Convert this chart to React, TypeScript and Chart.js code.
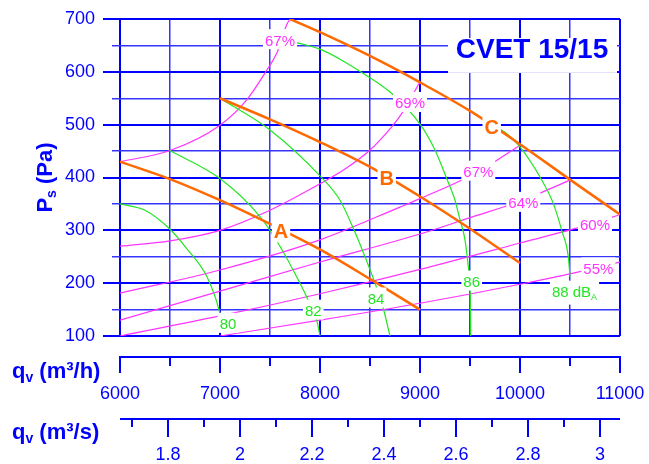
import React, { useEffect, useRef } from 'react';
import { Chart, registerables } from 'chart.js';

Chart.register(...registerables);

const FONT = '"Liberation Sans", Arial, Helvetica, sans-serif';
const BLUE = '#0000ff';
const GRID_MINOR = '#3434ff';
const ORANGE = '#ff6a00';
const GREEN = '#22e622';
const MAGENTA = '#ff33ff';

// Fan curves: airflow (m³/h) and static pressure (Pa)
const FAN_A_Q = [6000, 6500, 7000, 7500, 8000, 8500, 9000];
const FAN_A_P = [430, 397, 357, 312, 264, 208, 150];
const FAN_B_Q = [7000, 7500, 8000, 8500, 9000, 9500, 10000];
const FAN_B_P = [550, 510, 467, 420, 364, 303, 238];
const FAN_C_Q = [7700, 8000, 8500, 9000, 9500, 10000, 10500, 11000];
const FAN_C_P = [700, 675, 630, 580, 526, 463, 396, 330];

// Efficiency lines
const EFF_67_UPPER_Q = [6000, 6500, 7000, 7267, 7467, 7567, 7667, 7700];
const EFF_67_UPPER_P = [430, 451, 499, 547, 603, 635, 689, 700];
const EFF_69_Q = [6000, 6500, 7000, 7500, 8000, 8250, 8500, 8717, 8817, 9000];
const EFF_69_P = [270, 280, 300, 338, 388, 416, 452, 496, 521, 581];
const EFF_67_Q = [6000, 7000, 8000, 8800, 9000, 9583, 10000];
const EFF_67_P = [181, 225, 282, 344, 360, 411, 461];
const EFF_64_Q = [6000, 7000, 8000, 9000, 9500, 10000, 10500];
const EFF_64_P = [130, 185, 240, 293, 324, 355, 395];
const EFF_60_Q = [6000, 7000, 8000, 9000, 10000, 10750, 11000];
const EFF_60_P = [100, 138, 180, 226, 276, 314, 330];
const EFF_55_Q = [7000, 8000, 9000, 10000, 10600, 11000];
const EFF_55_P = [100, 130, 162, 198, 222, 240];

// Sound power lines, dB(A)
const NOISE_80_Q = [6000, 6250, 6500, 6700, 6800, 6870, 6950, 7000];
const NOISE_80_P = [350, 338, 302, 258, 234, 212, 175, 143];
const NOISE_82_Q = [6500, 7000, 7400, 7583, 7800, 7867, 7967, 8000];
const NOISE_82_P = [451, 398, 326, 275, 200, 174, 130, 100];
const NOISE_84_Q = [7000, 7500, 8000, 8200, 8333, 8450, 8550, 8633, 8700];
const NOISE_84_P = [550, 490, 403, 357, 304, 250, 200, 152, 100];
const NOISE_86_Q = [7600, 8000, 8200, 8433, 8717, 9000, 9150, 9267, 9350, 9400, 9450, 9485, 9503, 9507];
const NOISE_86_P = [662, 643, 624, 597, 559, 501, 452, 398, 357, 320, 282, 228, 175, 100];
const NOISE_88_Q = [9760, 9880, 10000, 10200, 10333, 10417, 10483, 10500];
const NOISE_88_P = [497, 481, 458, 401, 351, 300, 250, 212];

// Axis ticks
const PRESSURE_TICKS = [100, 200, 300, 400, 500, 600, 700];
const FLOW_H_TICKS = [6000, 7000, 8000, 9000, 10000, 11000];
const FLOW_S_TICKS = [1.8, 2, 2.2, 2.4, 2.6, 2.8, 3];
const FLOW_S_MINOR = [1.7, 1.9, 2.1, 2.3, 2.5, 2.7, 2.9];

type CurveLabel = { text: string; sub?: string; q: number; p: number; color: string; size: number; bold?: boolean };

const CURVE_LABELS: CurveLabel[] = [
  { text: 'A', q: 7610, p: 300, color: ORANGE, size: 20, bold: true },
  { text: 'B', q: 8667, p: 399, color: ORANGE, size: 20, bold: true },
  { text: 'C', q: 9717, p: 496, color: ORANGE, size: 20, bold: true },
  { text: '67%', q: 7600, p: 660, color: MAGENTA, size: 15 },
  { text: '69%', q: 8900, p: 541, color: MAGENTA, size: 15 },
  { text: '67%', q: 9583, p: 411, color: MAGENTA, size: 15 },
  { text: '64%', q: 10033, p: 352, color: MAGENTA, size: 15 },
  { text: '60%', q: 10750, p: 310, color: MAGENTA, size: 15 },
  { text: '55%', q: 10783, p: 228, color: MAGENTA, size: 15 },
  { text: '80', q: 7080, p: 123, color: GREEN, size: 15 },
  { text: '82', q: 7933, p: 148, color: GREEN, size: 15 },
  { text: '84', q: 8560, p: 171, color: GREEN, size: 15 },
  { text: '86', q: 9517, p: 203, color: GREEN, size: 15 },
  { text: '88 dB', sub: 'A', q: 10545, p: 184, color: GREEN, size: 15 },
];

const pts = (q: number[], p: number[]) => q.map((v, i) => ({ x: v, y: p[i] }));

const align = (px: number, w: number) => Math.round(px - w / 2) + w / 2;

type Part = { t: string; sub?: boolean };

function richWidth(ctx: CanvasRenderingContext2D, parts: Part[], size: number, bold: boolean) {
  let w = 0;
  for (const part of parts) {
    ctx.font = `${bold ? 'bold ' : ''}${part.sub ? Math.round(size * 0.62) : size}px ${FONT}`;
    w += ctx.measureText(part.t).width;
  }
  return w;
}

function drawRich(
  ctx: CanvasRenderingContext2D,
  parts: Part[],
  x: number,
  yMid: number,
  size: number,
  bold: boolean,
  color: string,
  alignTo: 'left' | 'center'
) {
  const total = richWidth(ctx, parts, size, bold);
  let cx = alignTo === 'center' ? x - total / 2 : x;
  const base = yMid + size * 0.36;
  ctx.fillStyle = color;
  ctx.textAlign = 'left';
  ctx.textBaseline = 'alphabetic';
  for (const part of parts) {
    const s = part.sub ? Math.round(size * 0.62) : size;
    ctx.font = `${bold ? 'bold ' : ''}${s}px ${FONT}`;
    ctx.fillText(part.t, cx, part.sub ? base + size * 0.2 : base);
    cx += ctx.measureText(part.t).width;
  }
  return total;
}

const overlayPlugin = {
  id: 'fanOverlay',
  beforeDatasetsDraw(chart: any) {
    const { ctx, chartArea, scales } = chart;
    const ys = scales.y;
    ctx.save();
    // Short stubs for the 50 Pa lines left of the pressure axis
    for (let v = 150; v < 700; v += 100) {
      const py = align(ys.getPixelForValue(v), 1.5);
      ctx.strokeStyle = GRID_MINOR;
      ctx.lineWidth = 1.5;
      ctx.beginPath();
      ctx.moveTo(chartArea.left - 8, py);
      ctx.lineTo(chartArea.left, py);
      ctx.stroke();
    }
    ctx.restore();
  },
  afterDatasetsDraw(chart: any) {
    const { ctx, scales } = chart;
    const xs = scales.x;
    const ys = scales.y;
    ctx.save();

    // Curve labels on white patches
    for (const lb of CURVE_LABELS) {
      const x = xs.getPixelForValue(lb.q);
      const y = ys.getPixelForValue(lb.p);
      const parts: Part[] = [{ t: lb.text }];
      if (lb.sub) parts.push({ t: lb.sub, sub: true });
      const w = richWidth(ctx, parts, lb.size, !!lb.bold);
      const h = lb.size * 1.2 + (lb.sub ? 4 : 0);
      ctx.fillStyle = '#ffffff';
      ctx.fillRect(x - w / 2 - 2, y - lb.size * 0.6 - 2, w + 4, h + 2);
      drawRich(ctx, parts, x, y, lb.size, !!lb.bold, lb.color, 'center');
    }

    // Model name box
    const bx0 = xs.getPixelForValue(9280);
    const bx1 = xs.getPixelForValue(10970);
    const by0 = ys.getPixelForValue(664);
    const by1 = ys.getPixelForValue(598);
    ctx.fillStyle = '#ffffff';
    ctx.fillRect(bx0, by0, bx1 - bx0, by1 - by0);
    ctx.fillStyle = BLUE;
    ctx.font = `bold 28px ${FONT}`;
    ctx.textAlign = 'center';
    ctx.textBaseline = 'middle';
    ctx.fillText('CVET 15/15', xs.getPixelForValue(10120), ys.getPixelForValue(640));
    ctx.restore();
  },
  afterDraw(chart: any) {
    const { ctx, chartArea, scales } = chart;
    const xs = scales.x;
    ctx.save();
    ctx.strokeStyle = BLUE;
    ctx.fillStyle = BLUE;
    ctx.lineWidth = 2;
    ctx.lineCap = 'butt';

    const left = chartArea.left;
    const right = chartArea.right;

    // Airflow axis in m³/h
    const ax1 = Math.round(chartArea.bottom + 21);
    ctx.beginPath();
    ctx.moveTo(left - 1, ax1);
    ctx.lineTo(right + 1, ax1);
    ctx.stroke();
    for (let q = 6000; q <= 11000; q += 500) {
      const major = q % 1000 === 0;
      const px = align(xs.getPixelForValue(q), 2);
      ctx.beginPath();
      ctx.moveTo(px, ax1);
      ctx.lineTo(px, ax1 + (major ? 16 : 9));
      ctx.stroke();
    }
    ctx.font = `18px ${FONT}`;
    ctx.textAlign = 'center';
    ctx.textBaseline = 'middle';
    for (const q of FLOW_H_TICKS) {
      ctx.fillText(String(q), xs.getPixelForValue(q), ax1 + 37);
    }

    // Airflow axis in m³/s
    const ax2 = Math.round(chartArea.bottom + 83);
    ctx.beginPath();
    ctx.moveTo(left, ax2);
    ctx.lineTo(right, ax2);
    ctx.stroke();
    for (const s of FLOW_S_TICKS) {
      const px = align(xs.getPixelForValue(s * 3600), 2);
      ctx.beginPath();
      ctx.moveTo(px, ax2);
      ctx.lineTo(px, ax2 + 18);
      ctx.stroke();
    }
    for (const s of FLOW_S_MINOR) {
      const px = align(xs.getPixelForValue(s * 3600), 2);
      ctx.beginPath();
      ctx.moveTo(px, ax2);
      ctx.lineTo(px, ax2 + 8);
      ctx.stroke();
    }
    ctx.font = `18px ${FONT}`;
    for (const s of FLOW_S_TICKS) {
      ctx.fillText(String(s), xs.getPixelForValue(s * 3600), ax2 + 36);
    }

    // Axis titles
    drawRich(ctx, [{ t: 'q' }, { t: 'v', sub: true }, { t: ' (m³/h)' }], 12, ax1 + 13, 22, true, BLUE, 'left');
    drawRich(ctx, [{ t: 'q' }, { t: 'v', sub: true }, { t: ' (m³/s)' }], 12, ax2 + 12, 22, true, BLUE, 'left');

    ctx.save();
    ctx.translate(44, (chartArea.top + chartArea.bottom) / 2);
    ctx.rotate(-Math.PI / 2);
    drawRich(ctx, [{ t: 'P' }, { t: 's', sub: true }, { t: ' (Pa)' }], 0, 0, 22, true, BLUE, 'center');
    ctx.restore();

    ctx.restore();
  },
};

export default function App() {
  const canvasRef = useRef<HTMLCanvasElement | null>(null);

  useEffect(() => {
    const canvas = canvasRef.current;
    if (!canvas) return;

    const line = (q: number[], p: number[], color: string, width: number) => ({
      data: pts(q, p),
      borderColor: color,
      backgroundColor: color,
      borderWidth: width,
      pointRadius: 0,
      fill: false,
      cubicInterpolationMode: 'monotone' as const,
    });

    const isMajorP = (c: any) => c.tick && c.tick.value % 100 === 0;
    const isMajorQ = (c: any) => c.tick && c.tick.value % 1000 === 0;

    const chart = new Chart(canvas, {
      type: 'line',
      data: {
        datasets: [
          line(FAN_A_Q, FAN_A_P, ORANGE, 2.5),
          line(FAN_B_Q, FAN_B_P, ORANGE, 2.5),
          line(FAN_C_Q, FAN_C_P, ORANGE, 2.5),
          line(NOISE_80_Q, NOISE_80_P, GREEN, 1.2),
          line(NOISE_82_Q, NOISE_82_P, GREEN, 1.2),
          line(NOISE_84_Q, NOISE_84_P, GREEN, 1.2),
          line(NOISE_86_Q, NOISE_86_P, GREEN, 1.2),
          line(NOISE_88_Q, NOISE_88_P, GREEN, 1.2),
          line(EFF_67_UPPER_Q, EFF_67_UPPER_P, MAGENTA, 1.2),
          line(EFF_69_Q, EFF_69_P, MAGENTA, 1.2),
          line(EFF_67_Q, EFF_67_P, MAGENTA, 1.2),
          line(EFF_64_Q, EFF_64_P, MAGENTA, 1.2),
          line(EFF_60_Q, EFF_60_P, MAGENTA, 1.2),
          line(EFF_55_Q, EFF_55_P, MAGENTA, 1.2),
        ],
      },
      options: {
        animation: false,
        responsive: true,
        maintainAspectRatio: false,
        parsing: false,
        layout: { padding: { top: 19, right: 29, left: 0, bottom: 0 } },
        plugins: { legend: { display: false }, tooltip: { enabled: false } },
        scales: {
          x: {
            type: 'linear',
            min: 6000,
            max: 11000,
            afterFit: (s: any) => {
              s.height = 128;
            },
            ticks: { display: false, stepSize: 500, autoSkip: false },
            grid: {
              drawTicks: false,
              color: (c: any) => (isMajorQ(c) ? BLUE : GRID_MINOR),
              lineWidth: (c: any) => (isMajorQ(c) ? 2 : 1.5),
            },
            border: { display: false },
          },
          y: {
            type: 'linear',
            min: 100,
            max: 700,
            afterFit: (s: any) => {
              s.width = 120;
            },
            ticks: {
              stepSize: 50,
              autoSkip: false,
              padding: 8,
              color: BLUE,
              font: { family: FONT, size: 18 },
              callback: (v: any) => (PRESSURE_TICKS.includes(Number(v)) ? String(v) : ''),
            },
            grid: {
              drawTicks: true,
              tickLength: 17,
              color: (c: any) => (isMajorP(c) ? BLUE : GRID_MINOR),
              lineWidth: (c: any) => (isMajorP(c) ? 2 : 1.5),
              tickColor: (c: any) => (isMajorP(c) ? BLUE : 'rgba(0,0,0,0)'),
              tickWidth: 2,
            },
            border: { display: false },
          },
        },
      },
      plugins: [overlayPlugin],
    });

    return () => chart.destroy();
  }, []);

  return (
    <div style={{ position: 'absolute', left: 0, top: 0, width: 649, height: 464, background: '#ffffff' }}>
      <canvas ref={canvasRef} />
    </div>
  );
}
